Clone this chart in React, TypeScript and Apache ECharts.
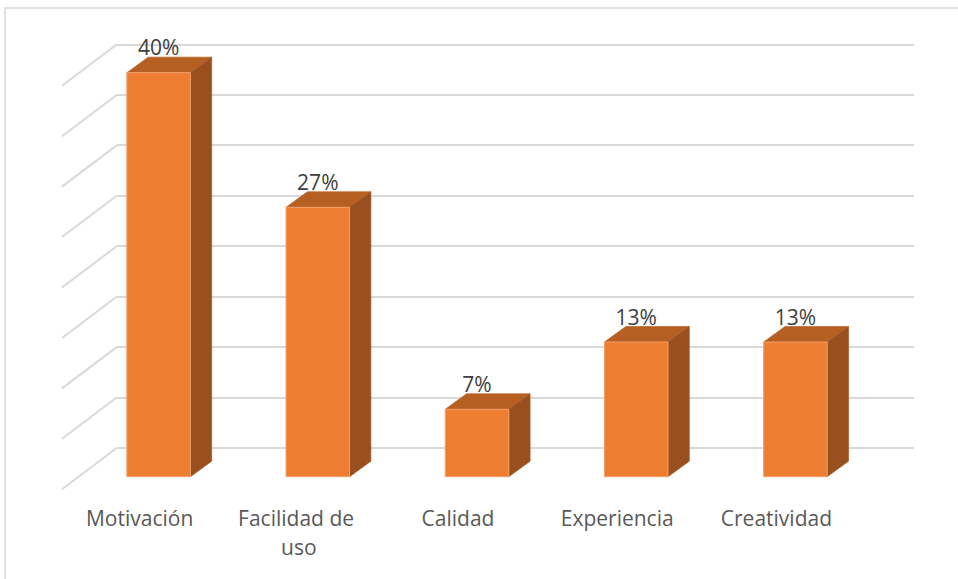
import React, { useEffect, useRef } from "react";
import * as echarts from "echarts";

const categories = ["Motivación", "Facilidad de uso", "Calidad", "Experiencia", "Creatividad"];
const values = [40, 26.67, 6.67, 13.33, 13.33];
const gridTicks = [0, 5, 10, 15, 20, 25, 30, 35, 40];

const FONT = "'Open Sans', 'Noto Sans', sans-serif";

export default function App() {
  const ref = useRef<HTMLDivElement>(null);

  useEffect(() => {
    if (!ref.current) return;
    const chart = echarts.init(ref.current, undefined, { renderer: "svg" });

    const barW = 63.5;
    const dx = 21.3;
    const dy = 15.5;
    const shift = 17.5;

    const option: any = {
      animation: false,
      backgroundColor: "#ffffff",
      graphic: [
        {
          type: "rect",
          shape: { x: 5, y: 8, width: 980, height: 600 },
          style: { fill: "none", stroke: "#d9d9d9", lineWidth: 1.5 },
          z: 0,
        },
      ],
      grid: [
        { left: 117, right: 44, top: 44.3, bottom: 131.3 },
        { left: 60, right: 102, top: 72.7, bottom: 102.3 },
      ],
      xAxis: [
        { gridIndex: 0, type: "value", min: 0, max: 1, show: false },
        {
          gridIndex: 1,
          type: "category",
          data: categories,
          axisLine: { show: false },
          axisTick: { show: false },
          splitLine: { show: false },
          axisLabel: {
            interval: 0,
            color: "#595959",
            fontSize: 21,
            fontFamily: FONT,
            lineHeight: 29,
            margin: 27,
            width: 140,
            overflow: "break",
          },
        },
      ],
      yAxis: [
        {
          gridIndex: 0,
          type: "value",
          min: 0,
          max: 40,
          interval: 5,
          axisLabel: { show: false },
          axisLine: { show: false },
          axisTick: { show: false },
          splitLine: { lineStyle: { color: "#d9d9d9", width: 2 } },
        },
        {
          gridIndex: 1,
          type: "value",
          min: 0,
          max: 40,
          interval: 5,
          axisLabel: { show: false },
          axisLine: { show: false },
          axisTick: { show: false },
          splitLine: { show: false },
        },
      ],
      series: [
        {
          type: "custom",
          xAxisIndex: 0,
          yAxisIndex: 0,
          clip: false,
          z: 1,
          data: gridTicks.map((v) => [0, v]),
          encode: { x: 0, y: 1 },
          renderItem: (_params: any, api: any) => {
            const p = api.coord([0, api.value(1)]);
            return {
              type: "line",
              shape: { x1: p[0], y1: p[1], x2: p[0] - 55, y2: p[1] + 41.5 },
              style: { stroke: "#d9d9d9", lineWidth: 2 },
            };
          },
        },
        {
          type: "custom",
          xAxisIndex: 1,
          yAxisIndex: 1,
          clip: false,
          z: 5,
          data: values.map((v, i) => [i, v]),
          encode: { x: 0, y: 1 },
          renderItem: (_params: any, api: any) => {
            const i = api.value(0);
            const v = api.value(1);
            const p0 = api.coord([i, 0]);
            const p1 = api.coord([i, v]);
            const cx = p0[0] + shift + 1.5;
            const L = cx - barW / 2;
            const R = cx + barW / 2;
            const B = p0[1];
            const T = p1[1];
            return {
              type: "group",
              children: [
                {
                  type: "polygon",
                  shape: { points: [[L, T], [L + dx, T - dy], [R + dx, T - dy], [R, T]] },
                  style: { fill: "#b65f22", stroke: "#c06a2c", lineWidth: 0.8 },
                },
                {
                  type: "polygon",
                  shape: { points: [[R, T], [R + dx, T - dy], [R + dx, B - dy], [R, B]] },
                  style: { fill: "#9a4f1e", stroke: "#a8592a", lineWidth: 0.8 },
                },
                {
                  type: "rect",
                  shape: { x: L, y: T, width: barW, height: B - T },
                  style: { fill: "#ed7d31", stroke: "#f2a06a", lineWidth: 1 },
                },
                {
                  type: "text",
                  x: cx,
                  y: T - dy - 10,
                  style: {
                    text: Math.round(v) + "%",
                    fill: "#404040",
                    fontSize: 21,
                    fontFamily: FONT,
                    align: "center",
                    verticalAlign: "middle",
                  },
                },
              ],
            };
          },
        },
      ],
    };

    chart.setOption(option);
    return () => chart.dispose();
  }, []);

  return (
    <div
      ref={ref}
      style={{ position: "fixed", left: 0, top: 0, width: 958, height: 579, background: "#fff" }}
    />
  );
}
